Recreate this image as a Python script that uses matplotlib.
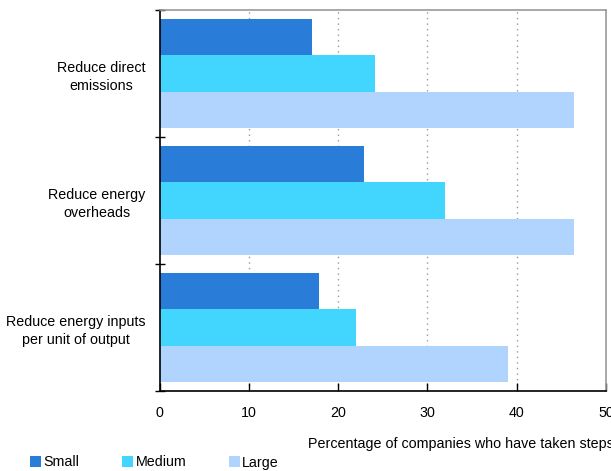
import matplotlib
matplotlib.use("Agg")
import matplotlib.pyplot as plt
from matplotlib.patches import Patch
import numpy as np

plt.rcParams['font.family'] = ['Liberation Sans', 'DejaVu Sans']

categories = ["Reduce direct\nemissions", "Reduce energy\noverheads",
              "Reduce energy inputs\nper unit of output"]
series_names = ["Small", "Medium", "Large"]
small = [17.1, 22.9, 17.9]
medium = [24.1, 32.0, 22.0]
large = [46.4, 46.4, 39.0]
x_ticks = [0, 10, 20, 30, 40, 50]
x_label = "Percentage of companies who have taken steps"

colors = ["#297CD8", "#42D6FF", "#B0D4FE"]
fs = 10.3

fig = plt.figure(figsize=(6.11, 4.71), dpi=100)
ax = fig.add_axes([159.5 / 611, 1 - 391 / 471, (606 - 159.5) / 611, (391 - 10) / 471])

n = len(categories)
centers = np.arange(n)
bar_h = 0.286
values = [small, medium, large]
for i, (vals, name, col) in enumerate(zip(values, series_names, colors)):
    ax.barh(centers + (i - 1) * bar_h, vals, height=bar_h, color=col,
            label=name, zorder=2)

ax.set_xlim(0, 50)
ax.set_ylim(n - 0.5, -0.5)

ax.set_xticks(x_ticks)
ax.set_xticklabels([str(t) for t in x_ticks], fontsize=fs)
ax.tick_params(axis='x', direction='in', length=6, width=1, pad=11, color='black')

# category boundaries as major ticks, labels on minor ticks at centres
ax.set_yticks(np.arange(n + 1) - 0.5)
ax.set_yticklabels([])
ax.tick_params(axis='y', which='major', direction='inout', length=7, width=1)
ax.set_yticks(centers, minor=True)
ax.set_yticklabels(categories, minor=True, fontsize=fs, ha='right',
                   multialignment='center', linespacing=1.35)
ax.tick_params(axis='y', which='minor', length=0, pad=10)

for x in x_ticks[1:-1]:
    ax.axvline(x, color='#999999', linestyle=(0, (1, 3)), linewidth=1, zorder=1)

for side in ['top', 'right']:
    ax.spines[side].set_color('#999999')
    ax.spines[side].set_linewidth(1.2)
for side in ['left', 'bottom']:
    ax.spines[side].set_color('black')
    ax.spines[side].set_linewidth(1.2)

fig.text(308 / 611, 1 - 444 / 471, x_label, fontsize=fs, ha='left', va='center')

handles = [Patch(facecolor=c, edgecolor='none') for c in colors]
fig.legend(handles, series_names, loc='center left',
           bbox_to_anchor=(30 / 611, 1 - 462.5 / 471), ncol=3, frameon=False,
           fontsize=fs, handlelength=0.75, handleheight=0.75, handletextpad=0.2,
           columnspacing=2.97, borderaxespad=0, borderpad=0)

fig.savefig("out.png", dpi=100)
